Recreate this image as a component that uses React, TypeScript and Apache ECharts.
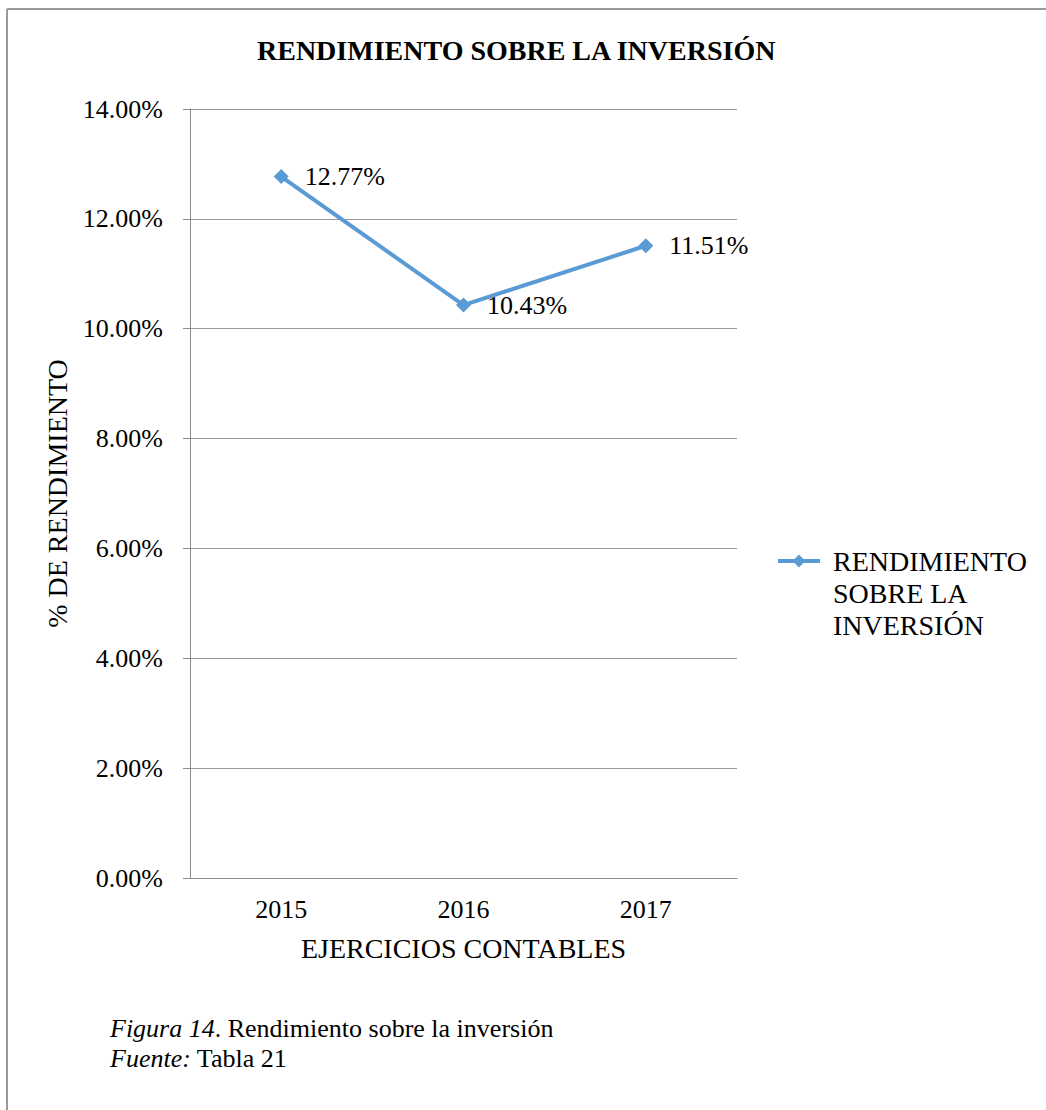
import React, { useEffect, useRef } from "react";
import * as echarts from "echarts";

const categories = ["2015", "2016", "2017"];
const seriesName = "RENDIMIENTO SOBRE LA INVERSIÓN";
const values = [12.77, 10.43, 11.51];
const yTicks = { min: 0, max: 14, interval: 2 };

const FONT = "Times New Roman, Liberation Serif, serif";

export default function App() {
  const ref = useRef<HTMLDivElement>(null);
  useEffect(() => {
    if (!ref.current) return;
    const chart = echarts.init(ref.current, null, { renderer: "svg" });
    const txt = { fontFamily: FONT, fontSize: 26, fontWeight: "normal", color: "#000" };
    const big = { ...txt, fontSize: 28 };
    chart.setOption({
      animation: false,
      backgroundColor: "#ffffff",
      textStyle: { fontFamily: FONT, color: "#000" },
      title: {
        text: seriesName,
        left: 257,
        top: 36,
        padding: 0,
        textStyle: { fontFamily: FONT, fontSize: 28, fontWeight: "bold", color: "#000" },
      },
      grid: { left: 190, right: 309, top: 109, bottom: 232, containLabel: false },
      legend: {
        left: 776,
        top: 481,
        padding: 0,
        itemWidth: 42,
        itemHeight: 16,
        data: [seriesName],
        formatter: () => "\n\nRENDIMIENTO\nSOBRE LA\nINVERSIÓN",
        lineStyle: { width: 4, color: "#5b9bd5" },
        itemStyle: { color: "#5b9bd5" },
        textStyle: { ...big, lineHeight: 32, padding: [0, 0, 0, 8] },
      },
      xAxis: {
        type: "category",
        data: categories,
        boundaryGap: true,
        name: "EJERCICIOS CONTABLES",
        nameLocation: "middle",
        nameGap: 56,
        nameTextStyle: { ...big, verticalAlign: "top" },
        axisLine: { lineStyle: { color: "#8c8c8c", width: 1 } },
        axisTick: { show: false },
        axisLabel: { ...txt, margin: 18 },
      },
      yAxis: {
        type: "value",
        min: yTicks.min,
        max: yTicks.max,
        interval: yTicks.interval,
        name: "% DE RENDIMIENTO",
        nameLocation: "middle",
        nameRotate: 90,
        nameGap: 118,
        nameTextStyle: { ...big },
        axisLine: { show: true, lineStyle: { color: "#8c8c8c", width: 1 } },
        axisTick: { show: true, length: 7, lineStyle: { color: "#8c8c8c" } },
        axisLabel: {
          ...txt,
          margin: 27,
          formatter: (v: number) => v.toFixed(2) + "%",
        },
        splitLine: { show: true, lineStyle: { color: "#9a9a9a", width: 1 } },
      },
      series: [
        {
          name: seriesName,
          type: "line",
          data: values,
          symbol: "diamond",
          symbolSize: 15,
          lineStyle: { color: "#5b9bd5", width: 4 },
          itemStyle: { color: "#5b9bd5" },
          label: {
            show: true,
            position: "right",
            distance: 16,
            ...txt,
            formatter: (p: any) => Number(p.value).toFixed(2) + "%",
          },
        },
      ],
      graphic: [
        {
          type: "line",
          shape: { x1: 7, y1: 9, x2: 1046, y2: 9 },
          style: { stroke: "#9a9a9a", lineWidth: 2 },
          silent: true,
        },
        {
          type: "line",
          shape: { x1: 7, y1: 9, x2: 7, y2: 1110 },
          style: { stroke: "#9a9a9a", lineWidth: 2 },
          silent: true,
        },
        {
          type: "text",
          left: 110,
          top: 1013,
          style: {
            text: "{i|Figura 14}. Rendimiento sobre la inversión\n{i|Fuente:} Tabla 21",
            fontFamily: FONT,
            fontSize: 26,
            fontWeight: "normal",
            lineHeight: 30,
            fill: "#000",
            rich: {
              i: { fontStyle: "italic", fontFamily: FONT, fontSize: 26, lineHeight: 30 },
            },
          },
        },
      ],
    });
    return () => chart.dispose();
  }, []);
  return (
    <div
      ref={ref}
      style={{ position: "absolute", left: 0, top: 0, width: 1046, height: 1110 }}
    />
  );
}
